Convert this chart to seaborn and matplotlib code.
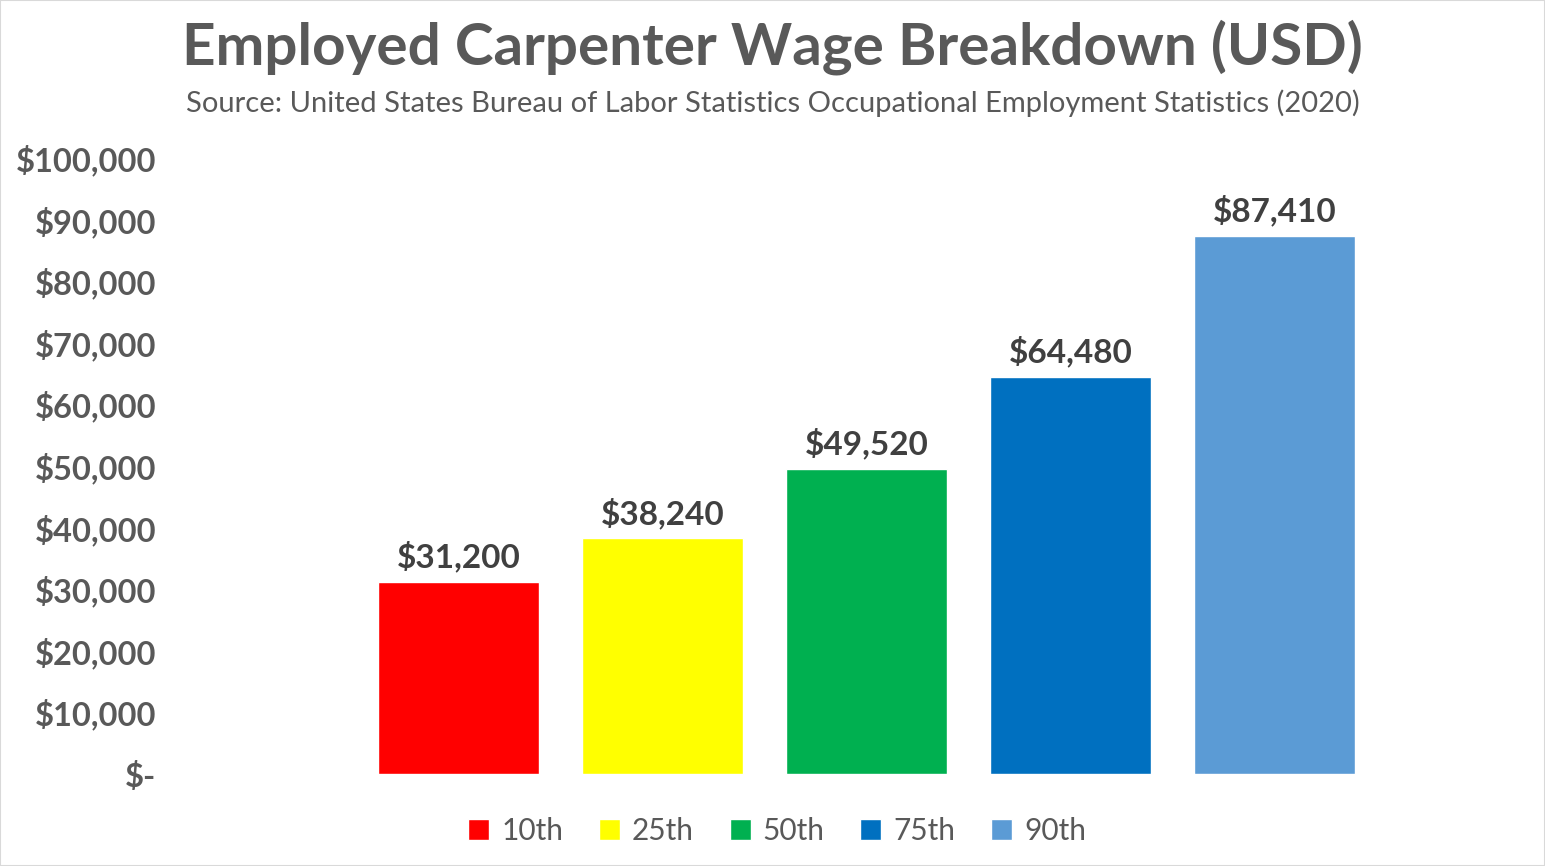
import matplotlib
matplotlib.use('Agg')
import matplotlib.pyplot as plt
from matplotlib.patches import Patch, Rectangle
from matplotlib.ticker import FuncFormatter
import seaborn as sns
import pandas as pd

# wage percentiles, carpenters 2020
percentiles = ['10th', '25th', '50th', '75th', '90th']
wages = [31200, 38240, 49520, 64480, 87410]
colors = ['#FF0000', '#FFFF00', '#00B050', '#0070C0', '#5B9BD5']
y_ticks = [0, 10000, 20000, 30000, 40000, 50000, 60000, 70000, 80000, 90000, 100000]

df = pd.DataFrame({'Percentile': percentiles, 'Wage': wages})

sns.set_style('white')
plt.rcParams['font.family'] = ['Lato', 'DejaVu Sans']

fig = plt.figure(figsize=(15.45, 8.66), dpi=100)
ax = fig.add_axes([170 / 1545, (866 - 774) / 866, 1360 / 1545, 616 / 866])

sns.barplot(data=df, x='Percentile', y='Wage', hue='Percentile',
            palette=colors, dodge=False, width=0.79, legend=False, ax=ax,
            saturation=1)

ax.set_xlim(-1.414, 5.252)
ax.set_ylim(0, 100000)
ax.set_yticks(y_ticks)

def money(v, pos):
    if v == 0:
        return '$-'
    return '${:,.0f}'.format(v)

ax.yaxis.set_major_formatter(FuncFormatter(money))
ax.tick_params(axis='y', length=0, labelsize=23.5, labelcolor='#595959', pad=10)
for lbl in ax.get_yticklabels():
    lbl.set_fontweight('bold')
ax.set_xticks([])
ax.set_xlabel('')
ax.set_ylabel('')
sns.despine(ax=ax, left=True, bottom=True)

# labels over the bars
for i, w in enumerate(wages):
    ax.text(i, w + 1500, '${:,.0f}'.format(w), ha='center', va='bottom',
            fontsize=24, fontweight='bold', color='#404040')

fig.text(0.5, (866 - 47) / 866, 'Employed Carpenter Wage Breakdown (USD)',
         ha='center', va='center', fontsize=42, fontweight='bold', color='#595959')
fig.text(0.5, (866 - 103) / 866,
         'Source: United States Bureau of Labor Statistics Occupational Employment Statistics (2020)',
         ha='center', va='center', fontsize=21, color='#595959')

handles = [Patch(facecolor=c, label=p) for p, c in zip(percentiles, colors)]
fig.legend(handles=handles, loc='center', bbox_to_anchor=(0.503, (866 - 831) / 866),
           ncol=5, frameon=False, fontsize=21.5, handlelength=0.7, handleheight=0.7,
           handletextpad=0.4, columnspacing=1.2, labelcolor='#595959')

fig.patches.append(Rectangle((0, 0), 1, 1, transform=fig.transFigure, fill=False,
                             edgecolor='#D9D9D9', linewidth=1.5))

fig.savefig('out.png', dpi=100)
